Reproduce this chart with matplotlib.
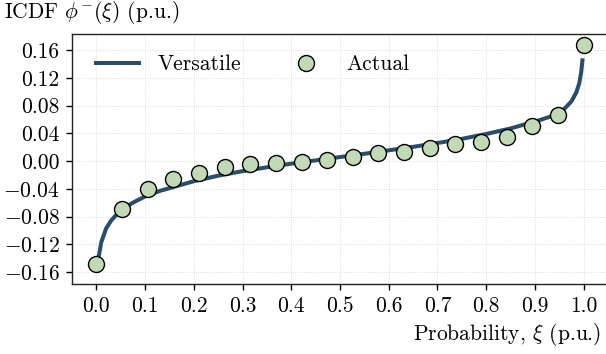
import matplotlib
matplotlib.use("Agg")
import matplotlib.pyplot as plt
import numpy as np

plt.rcParams['mathtext.fontset'] = 'cm'
plt.rcParams['font.family'] = ['serif']
plt.rcParams['font.serif'] = ['cmr10', 'DejaVu Serif']
plt.rcParams['axes.formatter.use_mathtext'] = True
plt.rcParams['axes.unicode_minus'] = True

# Actual points (20 equally spaced probabilities)
actual_xi = [i / 19 for i in range(20)]
actual_val = [-0.1485, -0.0693, -0.0396, -0.0256, -0.0175, -0.0085, -0.0045, -0.0030,
              -0.0007, 0.0017, 0.0056, 0.0113, 0.0137, 0.0195, 0.0243, 0.0272,
              0.0353, 0.0511, 0.0661, 0.1673]

# Versatile ICDF curve
curve_xi = [0.002, 0.005, 0.01, 0.02, 0.03, 0.04, 0.06, 0.08, 0.10, 0.13, 0.16, 0.20,
            0.25, 0.30, 0.35, 0.40, 0.45, 0.50, 0.55, 0.60, 0.65, 0.70, 0.75, 0.80,
            0.85, 0.88, 0.91, 0.94, 0.96, 0.975, 0.985, 0.991, 0.995, 0.998]
curve_val = [-0.161, -0.137, -0.117, -0.097, -0.086, -0.078, -0.066, -0.058, -0.051,
             -0.043, -0.037, -0.029, -0.021, -0.0145, -0.009, -0.0037, 0.001, 0.0058,
             0.0105, 0.0155, 0.0205, 0.026, 0.032, 0.039, 0.047, 0.053, 0.059, 0.066,
             0.075, 0.086, 0.099, 0.112, 0.128, 0.148]

xticks = [0.0, 0.1, 0.2, 0.3, 0.4, 0.5, 0.6, 0.7, 0.8, 0.9, 1.0]
yticks = [-0.16, -0.12, -0.08, -0.04, 0.00, 0.04, 0.08, 0.12, 0.16]

FS = 15.5

fig = plt.figure(figsize=(6.06, 3.54), dpi=100)
ax = fig.add_axes([72 / 606, 1 - 284 / 354, 536 / 606, 250 / 354])

ax.plot(curve_xi, curve_val, color='#2c4d68', lw=2.9, label='Versatile', zorder=3,
        solid_capstyle='butt')
ax.plot(actual_xi, actual_val, 'o', ms=11.5, mfc='#c1d9b6', mec='black', mew=1.0,
        label='Actual', zorder=4, linestyle='none')

ax.set_xlim(-0.05, 1.05)
ax.set_ylim(-0.177, 0.183)
ax.set_xticks(xticks)
ax.set_yticks(yticks)
ax.set_xticklabels([f"{v:.1f}" for v in xticks])
ax.set_yticklabels([f"{v:.2f}" if v >= 0 else f"$-${abs(v):.2f}" for v in yticks])
ax.tick_params(labelsize=FS, direction='out', length=4, width=1, pad=5)
ax.grid(True, color='#d4d4d4', linestyle=':', linewidth=0.6)
ax.set_axisbelow(True)
ax.spines['right'].set_visible(False)
for s in ['left', 'top', 'bottom']:
    ax.spines[s].set_linewidth(1.0)
    ax.spines[s].set_color('#222222')

fig.text(4 / 606, 1 - 12 / 354, r'ICDF $\phi^{-}(\xi)$ (p.u.)', fontsize=FS,
         ha='left', va='center')
fig.text(601 / 606, 1 - 335 / 354, r'Probability, $\xi$ (p.u.)', fontsize=FS,
         ha='right', va='center')

ax.legend(loc='upper left', ncol=2, frameon=False, fontsize=FS,
          bbox_to_anchor=(0.025, 0.952), handlelength=2.2, columnspacing=1.93,
          handletextpad=0.75, borderaxespad=0.0)

fig.savefig('out.png', dpi=100)
